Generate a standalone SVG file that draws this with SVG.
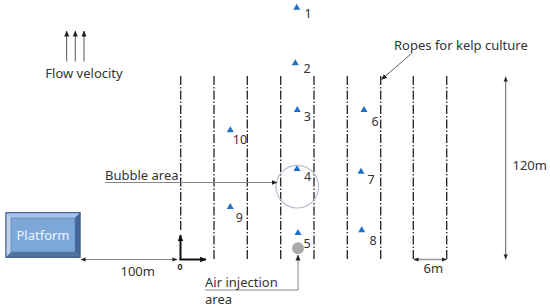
<svg xmlns="http://www.w3.org/2000/svg" width="550" height="308" viewBox="0 0 550 308">
<defs>
<style>
.t{font-family:"Noto Sans","Liberation Sans",sans-serif;fill:#333;font-size:13px}
.n{font-family:"Noto Sans","Liberation Sans",sans-serif;fill:#333;font-size:12.5px}
.rope{stroke:#222;stroke-width:1.3;stroke-dasharray:9 2 1.5 2;fill:none}
.g{stroke:#888;stroke-width:1;fill:none}
.tri{fill:#1f6fc5}
</style>
<marker id="ah" viewBox="0 0 6 6" refX="5.5" refY="3" markerWidth="6" markerHeight="6" orient="auto" markerUnits="userSpaceOnUse"><path d="M0,0.5 L6,3 L0,5.5 Z" fill="#222"/></marker>
<marker id="ahs" viewBox="0 0 6 6" refX="5.5" refY="3" markerWidth="5" markerHeight="5" orient="auto-start-reverse" markerUnits="userSpaceOnUse"><path d="M0,0.5 L6,3 L0,5.5 Z" fill="#222"/></marker>
<marker id="ahb" viewBox="0 0 6 6" refX="5.5" refY="3" markerWidth="7" markerHeight="7" orient="auto" markerUnits="userSpaceOnUse"><path d="M0,0.5 L6,3 L0,5.5 Z" fill="#111"/></marker>
</defs>
<rect width="550" height="308" fill="#fff"/>

<g id="flow">
<line x1="66.7" y1="61.5" x2="66.7" y2="31" stroke="#555" stroke-width="1" marker-end="url(#ah)"/>
<line x1="75.3" y1="61.5" x2="75.3" y2="31" stroke="#555" stroke-width="1" marker-end="url(#ah)"/>
<line x1="84" y1="61.5" x2="84" y2="31" stroke="#555" stroke-width="1" marker-end="url(#ah)"/>
<text class="t" x="84" y="78" text-anchor="middle">Flow velocity</text>
</g>

<g id="ropes">
<line class="rope" x1="180.7" y1="76" x2="180.7" y2="232"/>
<line class="rope" x1="214" y1="76" x2="214" y2="260"/>
<line class="rope" x1="247.3" y1="76" x2="247.3" y2="260"/>
<line class="rope" x1="280.7" y1="76" x2="280.7" y2="260"/>
<line class="rope" x1="314" y1="76" x2="314" y2="260"/>
<line class="rope" x1="347.3" y1="76" x2="347.3" y2="260"/>
<line class="rope" x1="380.7" y1="76" x2="380.7" y2="260"/>
<line class="rope" x1="413.3" y1="76" x2="413.3" y2="260"/>
<line class="rope" x1="446.7" y1="76" x2="446.7" y2="260"/>
</g>

<g id="axes">
<line x1="180.5" y1="260" x2="180.5" y2="235" stroke="#111" stroke-width="2" marker-end="url(#ahb)"/>
<line x1="179.5" y1="259.5" x2="206" y2="259.5" stroke="#111" stroke-width="2" marker-end="url(#ahb)"/>
<text x="180" y="270" text-anchor="middle" font-family="Liberation Sans,sans-serif" font-size="9" font-weight="bold" fill="#222">0</text>
</g>

<g id="platform">
<rect x="6" y="212.7" width="74" height="44.6" fill="#7da7d9" stroke="#3f5f8a" stroke-width="1"/>
<polygon points="6,212.7 80,212.7 75,218 11,218" fill="#a8c3e8"/>
<polygon points="6,212.7 11,218 11,252 6,257.3" fill="#bcd1ee"/>
<polygon points="80,212.7 80,257.3 75,252 75,218" fill="#44679a"/>
<polygon points="6,257.3 11,252 75,252 80,257.3" fill="#52729f"/>
<rect x="6" y="212.7" width="74" height="44.6" fill="none" stroke="#3f5f8a" stroke-width="1"/>
<rect x="11" y="218" width="64" height="34" fill="#7da7d9" stroke="#5a7fb0" stroke-width="0.6"/>
<text x="43" y="240" text-anchor="middle" font-family="Noto Sans,Liberation Sans,sans-serif" font-size="13" fill="#eef4fc">Platform</text>
</g>

<g id="dim100">
<line class="g" x1="81" y1="259.5" x2="177" y2="259.5" marker-start="url(#ahs)" marker-end="url(#ahs)" stroke="#999" stroke-width="1.5"/>
<text class="t" x="137.7" y="276" text-anchor="middle">100m</text>
</g>

<g id="markers">
<polygon class="tri" points="296.7,3.7 300.2,9.7 293.2,9.7"/>
<text class="n" x="308" y="18" text-anchor="middle">1</text>
<polygon class="tri" points="295.3,59.3 298.8,65.3 291.8,65.3"/>
<text class="n" x="307" y="73" text-anchor="middle">2</text>
<polygon class="tri" points="297.3,106 300.8,112 293.8,112"/>
<text class="n" x="307.3" y="120.5" text-anchor="middle">3</text>
<polygon class="tri" points="364,106 367.5,112 360.5,112"/>
<text class="n" x="375" y="125.5" text-anchor="middle">6</text>
<polygon class="tri" points="230.3,126.3 233.8,132.3 226.8,132.3"/>
<text class="n" x="240" y="143.5" text-anchor="middle">10</text>
<polygon class="tri" points="297,165 300.5,171 293.5,171"/>
<text class="n" x="307.7" y="181" text-anchor="middle">4</text>
<polygon class="tri" points="361,167.7 364.5,173.7 357.5,173.7"/>
<text class="n" x="371" y="184" text-anchor="middle">7</text>
<polygon class="tri" points="230.3,203 233.8,209 226.8,209"/>
<text class="n" x="239.3" y="222" text-anchor="middle">9</text>
<polygon class="tri" points="298,229 301.5,235 294.5,235"/>
<text class="n" x="307" y="247.5" text-anchor="middle">5</text>
<polygon class="tri" points="361.7,226.3 365.2,232.3 358.2,232.3"/>
<text class="n" x="373" y="245" text-anchor="middle">8</text>
</g>

<g id="bubble">
<circle cx="297.3" cy="186.7" r="21.3" fill="none" stroke="#b7c0cf" stroke-width="1.2"/>
<line x1="105" y1="182.5" x2="277" y2="182.5" stroke="#888" stroke-width="1" marker-end="url(#ah)"/>
<text class="t" x="105" y="180">Bubble area</text>
</g>

<g id="air">
<circle cx="298" cy="248.3" r="6" fill="#aaa"/>
<polyline points="205,290 298,290 298,255" fill="none" stroke="#888" stroke-width="1" marker-end="url(#ah)"/>
<text class="t" x="205" y="286.5" font-size="12.5">Air injection</text>
<text class="t" x="205" y="304" font-size="12.5">area</text>
</g>

<g id="ropelabel">
<text class="t" x="394" y="50">Ropes for kelp culture</text>
<line x1="411.7" y1="53.3" x2="381.5" y2="79.5" stroke="#333" stroke-width="0.8" marker-end="url(#ah)"/>
</g>

<g id="dim120">
<line x1="505.7" y1="77" x2="505.7" y2="259" stroke="#333" stroke-width="0.8" marker-start="url(#ahs)" marker-end="url(#ahs)"/>
<text class="t" x="512.5" y="170">120m</text>
</g>

<g id="dim6">
<line x1="414" y1="259.5" x2="446.5" y2="259.5" stroke="#999" stroke-width="1.5" marker-start="url(#ahs)" marker-end="url(#ahs)"/>
<text class="t" x="433.3" y="273" text-anchor="middle">6m</text>
</g>
</svg>
